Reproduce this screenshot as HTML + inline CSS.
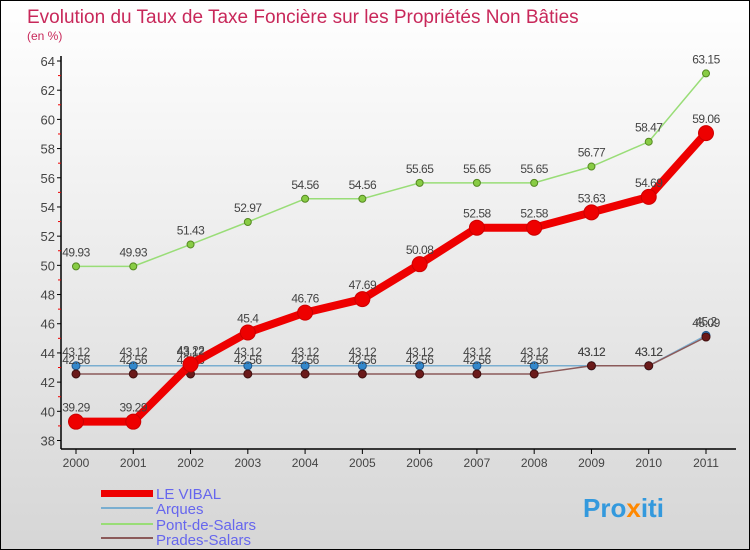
<!DOCTYPE html>
<html><head><meta charset="utf-8"><style>
body{margin:0}
#c{width:750px;height:550px;position:relative;box-sizing:border-box;border:1px solid #000;background:linear-gradient(#ffffff,#d6d6d6);font-family:"Liberation Sans",sans-serif;overflow:hidden}
</style></head><body>
<div id="c">
<svg id="s" width="748" height="548" style="position:absolute;left:0;top:0" font-family="Liberation Sans, sans-serif">
<text x="26" y="22" font-size="19" fill="#c8285a">Evolution du Taux de Taxe Foncière sur les Propriétés Non Bâties</text>
<text x="26" y="39" font-size="12" fill="#c8285a">(en %)</text>
<g id="g"></g>
<g>
<rect x="100" y="489" width="52" height="7" fill="#ee0000"/>
<text x="155" y="498" font-size="15" fill="#6666ee">LE VIBAL</text>
<rect x="100" y="506" width="52" height="2" fill="#7aaed0"/>
<text x="155" y="513" font-size="15" fill="#6666ee">Arques</text>
<rect x="100" y="522" width="52" height="2" fill="#99dd77"/>
<text x="155" y="529" font-size="15" fill="#6666ee">Pont-de-Salars</text>
<rect x="100" y="536" width="52" height="2" fill="#8b5a5a"/>
<text x="155" y="544" font-size="15" fill="#6666ee">Prades-Salars</text>
</g>
<g>
<text x="582" y="516" font-size="26" font-weight="bold" fill="#3399dd">Pro<tspan fill="#ff8800">x</tspan>iti</text>
</g>
</svg>
</div>
<script>
const years=[2000,2001,2002,2003,2004,2005,2006,2007,2008,2009,2010,2011];
const yTicks=[38,40,42,44,46,48,50,52,54,56,58,60,62,64];
const vibal=[39.29,39.29,43.22,45.4,46.76,47.69,50.08,52.58,52.58,53.63,54.69,59.06];
const arques=[43.12,43.12,43.12,43.12,43.12,43.12,43.12,43.12,43.12,43.12,43.12,45.20];
const pont=[49.93,49.93,51.43,52.97,54.56,54.56,55.65,55.65,55.65,56.77,58.47,63.15];
const prades=[42.56,42.56,42.56,42.56,42.56,42.56,42.56,42.56,42.56,43.12,43.12,45.09];
const NS="http://www.w3.org/2000/svg";
const g=document.getElementById('g');
function X(i){return 75+i*(705-75)/11;}
function Y(v){return 439.5-(v-38)*(439.5-60)/26;}
function mk(t,a){const e=document.createElementNS(NS,t);for(const k in a)e.setAttribute(k,a[k]);g.appendChild(e);return e;}
let e;
e=mk('line',{x1:60,y1:55,x2:60,y2:448,stroke:'#000','stroke-width':1.5});


e=mk('line',{x1:60,y1:448,x2:735,y2:448,stroke:'#000','stroke-width':1.5});


yTicks.forEach((v,i)=>{
 mk('line',{x1:56,y1:Y(v),x2:60,y2:Y(v),stroke:'#000'});
 if(i<yTicks.length-1) mk('line',{x1:57,y1:Y(v+1),x2:60,y2:Y(v+1),stroke:'#e00'});
 e=mk('text',{x:54,y:Y(v)+5,'text-anchor':'end','font-size':13,fill:'#444'});
 e.textContent=v;
 
 
});
years.forEach((yr,i)=>{
 mk('line',{x1:X(i),y1:448,x2:X(i),y2:453,stroke:'#000'});
 e=mk('text',{x:X(i),y:466,'text-anchor':'middle','font-size':12,fill:'#444'});
 e.textContent=yr;
 
 
});
function series(d,name,col,w,r,dot,dotStroke){
 const pts=d.map((v,i)=>X(i)+','+Y(v)).join(' ');
 e=mk('polyline',{points:pts,fill:'none',stroke:col,'stroke-width':w,'stroke-linejoin':'round'});
 
 
 d.forEach((v,i)=>{
  e=mk('circle',{cx:X(i),cy:Y(v),r:r,fill:dot,stroke:dotStroke,'stroke-width':1});
  
  
  e=mk('text',{x:X(i),y:Y(v)-10,'text-anchor':'middle','font-size':12,fill:'#444','letter-spacing':'-0.5'});
  e.textContent=v;
  
  
 });
}
series(pont,'pont-de-salars','#99dd77',1.5,3.5,'#88cc44','#558822');
series(arques,'arques','#7aaed0',1.5,4,'#3388cc','#225588');
series(prades,'prades-salars','#8b5a5a',1.5,4,'#6b1a1a','#401010');
series(vibal,'le-vibal','#ee0000',8,7.5,'#ee0000','#cc0000');
</script>
</body></html>
